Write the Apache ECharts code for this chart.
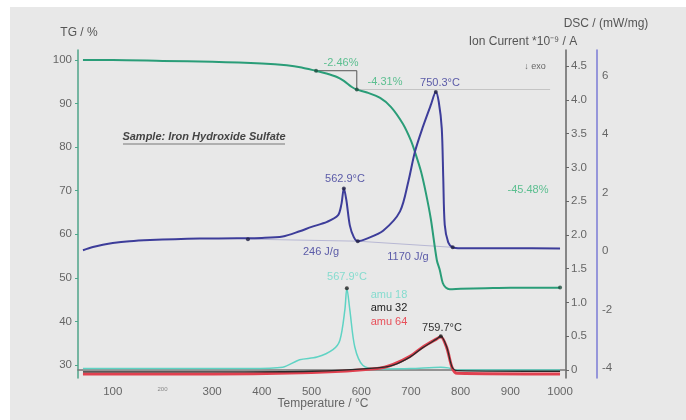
<!DOCTYPE html>
<html>
<head>
<meta charset="utf-8">
<script src="https://cdn.jsdelivr.net/npm/echarts@6/dist/echarts.min.js"></script>
<style>
  html, body { margin: 0; padding: 0; background: #e8e8e8; }
  #chart { width: 686px; height: 420px; }
</style>
</head>
<body>
<div id="chart"></div>
<script>
// --- data ---
const xTicks = [100, 200, 300, 400, 500, 600, 700, 800, 900, 1000];
const tgTicks = [30, 40, 50, 60, 70, 80, 90, 100];
const ionTicks = [0, 0.5, 1, 1.5, 2, 2.5, 3, 3.5, 4, 4.5];
const dscTicks = [-4, -2, 0, 2, 4, 6];

// TG (mass %)
const tgTemp = [40, 100, 200, 300, 400, 450, 480, 509, 530, 551, 565, 581, 591, 610, 638, 660, 684, 700, 708, 720, 730, 740, 752, 758, 764, 770, 778, 800, 850, 900, 1000];
const tgMass = [100, 100, 99.8, 99.6, 99.2, 98.8, 98.3, 97.5, 96.9, 96.1, 95.2, 93.8, 93.2, 92.6, 91.3, 89.2, 85.3, 81.5, 78.9, 74.5, 69.5, 63.5, 54.1, 51.8, 48.8, 47.8, 47.4, 47.5, 47.6, 47.7, 47.7];

// DSC (mW/mg)
const dscTemp = [40, 60, 80, 100, 134, 175, 225, 275, 350, 400, 442, 476, 500, 531, 553, 560, 565, 570, 577, 585, 593, 610, 644, 678, 695, 708, 724, 740, 750, 756, 762, 765, 768, 775, 784, 800, 900, 1000];
const dscVal = [0.03, 0.14, 0.22, 0.28, 0.34, 0.38, 0.41, 0.43, 0.44, 0.45, 0.5, 0.68, 0.83, 1.0, 1.22, 1.6, 2.14, 1.75, 0.88, 0.48, 0.34, 0.42, 0.7, 1.36, 2.4, 3.4, 4.25, 5.0, 5.44, 5.1, 4.2, 2.5, 0.9, 0.3, 0.13, 0.1, 0.1, 0.09];

// Ion current (*10^-9 A)
const amu18Temp = [40, 200, 376, 442, 476, 511, 543, 557, 567, 571, 577, 587, 603, 632, 700, 760, 775, 790, 1000];
const amu18 = [0.02, 0.02, 0.02, 0.04, 0.15, 0.19, 0.3, 0.44, 0.89, 1.21, 0.89, 0.34, 0.07, 0.015, 0.02, 0.04, 0.03, 0.0, 0.0];
const amu32Temp = [40, 300, 500, 632, 664, 698, 724, 752, 760, 772, 783, 793, 1000];
const amu32 = [-0.03, -0.03, -0.02, 0.03, 0.07, 0.19, 0.33, 0.46, 0.5, 0.34, 0.04, -0.01, -0.02];
const amu64 = [-0.06, -0.06, -0.04, 0.02, 0.08, 0.2, 0.34, 0.46, 0.49, 0.33, 0.03, -0.05, -0.06];

// evaluation marks
const tgStep = [[509, 97.54], [591, 97.54], [591, 93.23]];
const tgLevel = [[591, 93.23], [980, 93.23]];
const tgDots = [[509, 97.54], [591, 93.23], [1000, 47.75]];
const dscBase1 = [[372, 0.41], [593, 0.34]];
const dscBase2 = [[593, 0.34], [784, 0.13]];
const dscDots = [[372, 0.41], [565, 2.14], [593, 0.34], [750, 5.44], [784, 0.13]];
const ionDots = [[571, 1.21], [760, 0.5]];

const zip = (xs, ys) => xs.map((x, i) => [x, ys[i]]);

const chart = echarts.init(document.getElementById("chart"));
const FONT = "Liberation Sans, Arial, sans-serif";
const tickLabel = { fontSize: 11.5, color: "#666", fontFamily: FONT };

function txt(text, x, y, color, opts) {
  return {
    type: "text",
    x: x, y: y,
    style: Object.assign({
      text: text,
      fill: color,
      font: "11px " + FONT,
      textAlign: "center",
      textVerticalAlign: "middle",
      align: "center",
      verticalAlign: "middle"
    }, opts || {})
  };
}

const option = {
  animation: false,
  backgroundColor: "#e8e8e8",
  grid: { left: 78, right: 120, top: 50, bottom: 42, containLabel: false },
  xAxis: {
    type: "value",
    min: 30,
    max: 1012,
    axisLine: { lineStyle: { color: "#777", width: 1.5 } },
    axisTick: { show: false },
    splitLine: { show: false },
    axisLabel: Object.assign({}, tickLabel, {
      customValues: xTicks,
      margin: 8,
      formatter: v => (v === 200 ? "{s|200}" : String(v)),
      rich: { s: { fontSize: 6, color: "#888", padding: [0, 0, 6, 0] } }
    })
  },
  yAxis: [
    {
      type: "value",
      position: "left",
      min: 27,
      max: 102.3,
      axisLine: { show: true, lineStyle: { color: "#4fa58a", width: 1.5 } },
      axisTick: { show: true, customValues: tgTicks, length: 3, lineStyle: { color: "#4fa58a" } },
      splitLine: { show: false },
      axisLabel: Object.assign({}, tickLabel, { customValues: tgTicks, margin: 6 })
    },
    {
      type: "value",
      position: "right",
      offset: 0,
      min: -0.12,
      max: 4.74,
      axisLine: { show: true, lineStyle: { color: "#666", width: 1.5 } },
      axisTick: { show: true, customValues: ionTicks, length: 3, lineStyle: { color: "#666" } },
      splitLine: { show: false },
      axisLabel: Object.assign({}, tickLabel, {
        customValues: ionTicks,
        margin: 5,
        formatter: v => (v === 0 ? "0" : v.toFixed(1))
      })
    },
    {
      type: "value",
      position: "right",
      offset: 31,
      min: -4.34,
      max: 6.88,
      axisLine: { show: true, lineStyle: { color: "#7b7bd6", width: 1.5 } },
      axisTick: { show: false },
      splitLine: { show: false },
      axisLabel: Object.assign({}, tickLabel, { customValues: dscTicks, margin: 5 })
    }
  ],
  series: [
    { name: "TG step", type: "line", yAxisIndex: 0, data: tgStep, symbol: "none",
      lineStyle: { color: "#555", width: 1 }, z: 3 },
    { name: "TG level", type: "line", yAxisIndex: 0, data: tgLevel, symbol: "none",
      lineStyle: { color: "#c4c4c4", width: 1 }, z: 1 },
    { name: "DSC base 1", type: "line", yAxisIndex: 2, data: dscBase1, symbol: "none",
      lineStyle: { color: "#b8b8d4", width: 1 }, z: 1 },
    { name: "DSC base 2", type: "line", yAxisIndex: 2, data: dscBase2, symbol: "none",
      lineStyle: { color: "#b8b8d4", width: 1 }, z: 1 },
    { name: "amu 18", type: "line", yAxisIndex: 1, data: zip(amu18Temp, amu18), symbol: "none",
      smooth: 0.3, lineStyle: { color: "#5fd3c4", width: 1.5 }, z: 4 },
    { name: "amu 64", type: "line", yAxisIndex: 1, data: zip(amu32Temp, amu64), symbol: "none",
      smooth: 0.3, lineStyle: { color: "#e0404f", width: 3 }, z: 4 },
    { name: "amu 32", type: "line", yAxisIndex: 1, data: zip(amu32Temp, amu32), symbol: "none",
      smooth: 0.3, lineStyle: { color: "#2a2a2a", width: 1.3 }, z: 5 },
    { name: "TG", type: "line", yAxisIndex: 0, data: zip(tgTemp, tgMass), symbol: "none",
      smooth: 0.3, lineStyle: { color: "#2a9d78", width: 2 }, z: 6 },
    { name: "DSC", type: "line", yAxisIndex: 2, data: zip(dscTemp, dscVal), symbol: "none",
      smooth: 0.3, lineStyle: { color: "#3d3d9a", width: 2 }, z: 6 },
    { type: "scatter", yAxisIndex: 0, data: tgDots, symbolSize: 4, itemStyle: { color: "#1f4f40" }, z: 8 },
    { type: "scatter", yAxisIndex: 2, data: dscDots, symbolSize: 4, itemStyle: { color: "#222244" }, z: 8 },
    { type: "scatter", yAxisIndex: 1, data: ionDots, symbolSize: 4, itemStyle: { color: "#222" }, z: 8 }
  ],
  graphic: [
    { type: "rect", shape: { x: 0, y: 0, width: 686, height: 7 }, style: { fill: "#fff" }, z: -1 },
    { type: "rect", shape: { x: 0, y: 0, width: 10, height: 420 }, style: { fill: "#fff" }, z: -1 },
    txt("TG / %", 79, 33, "#555", { font: "12px " + FONT }),
    txt("DSC / (mW/mg)", 606, 24, "#555", { font: "12px " + FONT }),
    txt("Ion Current *10\u207B\u2079 / A", 523, 42, "#555", { font: "12px " + FONT }),
    txt("\u2193 exo", 535, 67, "#666", { font: "9px " + FONT }),
    txt("Temperature / \u00B0C", 323, 404, "#666", { font: "12px " + FONT }),
    txt("Sample: Iron Hydroxide Sulfate", 204, 137, "#444", { font: "italic bold 11px " + FONT }),
    { type: "line", shape: { x1: 123, y1: 144, x2: 285, y2: 144 }, style: { stroke: "#777", lineWidth: 1 } },
    txt("-2.46%", 341, 63, "#5cbf90"),
    txt("-4.31%", 385, 82, "#5cbf90"),
    txt("-45.48%", 528, 190, "#5cbf90"),
    txt("750.3\u00B0C", 440, 83, "#5b5ba8"),
    txt("562.9\u00B0C", 345, 179, "#5b5ba8"),
    txt("246 J/g", 321, 252, "#5b5ba8"),
    txt("1170 J/g", 408, 257, "#5b5ba8"),
    txt("567.9\u00B0C", 347, 277, "#86dccf"),
    txt("amu 18", 389, 295, "#86dccf"),
    txt("amu 32", 389, 308, "#222"),
    txt("amu 64", 389, 322, "#e8505a"),
    txt("759.7\u00B0C", 442, 328, "#333")
  ]
};

chart.setOption(option);
</script>
</body>
</html>
